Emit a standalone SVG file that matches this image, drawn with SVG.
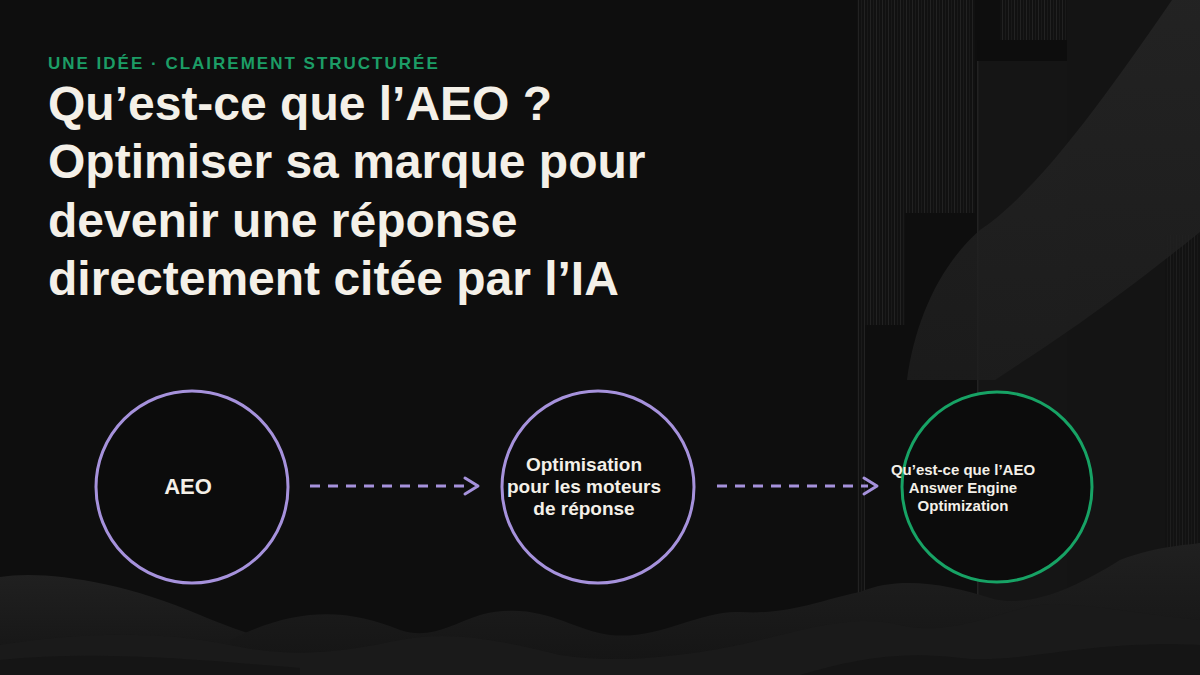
<svg xmlns="http://www.w3.org/2000/svg" width="1200" height="675" viewBox="0 0 1200 675">
<defs>
<style>
.bg{fill:#0e0e0e}
.kicker{font-family:"Liberation Sans",Arial,sans-serif;font-weight:700;font-size:17px;letter-spacing:2px;fill:#1c9d66}
.title{font-family:"Liberation Sans",Arial,sans-serif;font-weight:700;font-size:48px;fill:#f4f0e8}
.lbl{font-family:"Liberation Sans",Arial,sans-serif;font-weight:700;fill:#f4f0e8;text-anchor:middle}
.ring{fill:#0c0c0c;stroke-width:3}
.purple{stroke:#a692dc}
.green{stroke:#17a365}
.conn{stroke:#a692dc;stroke-width:3;fill:none;stroke-dasharray:10 8}
.head{stroke:#a692dc;stroke-width:3;fill:none;stroke-linecap:round;stroke-linejoin:round}
</style>
<pattern id="stripes" width="6" height="10" patternUnits="userSpaceOnUse">
<rect width="6" height="10" fill="#111111"/>
<rect x="0" width="1" height="10" fill="#222222"/>
<rect x="3" width="1" height="10" fill="#1a1a1a"/>
</pattern>
<linearGradient id="hill" x1="0" y1="0" x2="0" y2="1">
<stop offset="0" stop-color="#202020"/>
<stop offset="1" stop-color="#141414"/>
</linearGradient>
<linearGradient id="ribbon" x1="0" y1="0" x2="0" y2="1">
<stop offset="0" stop-color="#262626"/>
<stop offset="1" stop-color="#1e1e1e"/>
</linearGradient>
</defs>
<rect class="bg" width="1200" height="675"/>
<!-- decorative background, right side -->
<g id="decor-right">
<rect x="857" y="0" width="118" height="213" fill="url(#stripes)"/>
<rect x="857" y="213" width="48" height="112" fill="url(#stripes)"/>
<rect x="857" y="325" width="8" height="350" fill="url(#stripes)"/>
<rect x="1000" y="0" width="67" height="40" fill="url(#stripes)"/>
<rect x="977" y="40" width="90" height="21" fill="#0d0d0d"/>
<rect x="977" y="61" width="90" height="614" fill="#151515"/>
<rect x="977" y="61" width="1.5" height="614" fill="#222222"/>
<rect x="1067" y="0" width="133" height="675" fill="#141414"/>
<rect x="1165" y="235" width="35" height="440" fill="url(#stripes)" opacity="0.7"/>
<path d="M1172,0 C1110,90 1040,190 980,230 C940,265 915,320 907,380 L995,380 C1040,350 1090,320 1200,232 L1200,0 Z" fill="url(#ribbon)" opacity="0.8"/>
</g>
<!-- hills -->
<g id="decor-hills">
<path d="M0,577 C40,570 120,580 200,615 C260,640 300,650 330,648 L330,675 L0,675 Z" fill="url(#hill)"/>
<path d="M230,640 C300,605 350,610 400,630 C430,640 450,625 480,615 C540,600 570,630 610,635 C660,640 700,610 740,612 C790,615 820,600 860,592 C900,575 950,585 990,598 C1030,610 1080,585 1120,560 C1160,545 1190,545 1200,543 L1200,675 L230,675 Z" fill="url(#hill)"/>
<path d="M0,645 C60,635 150,628 230,645 C300,660 350,650 400,640 C450,630 500,640 560,655 C620,665 700,655 760,640 C820,625 860,615 900,625 C940,635 980,620 1030,606 C1080,600 1140,615 1200,620 L1200,675 L0,675 Z" fill="#1a1a1a"/>
<path d="M0,660 C100,650 200,660 300,668 L300,675 L0,675 Z M800,675 C850,660 900,650 960,658 C1020,665 1080,640 1200,645 L1200,675 Z" fill="#151515"/>
</g>
<!-- heading -->
<g id="heading">
<text class="kicker" x="48" y="69">UNE IDÉE · CLAIREMENT STRUCTURÉE</text>
<text class="title" x="48" y="120">Qu’est-ce que l’AEO ?</text>
<text class="title" x="48" y="178">Optimiser sa marque pour</text>
<text class="title" x="48" y="237">devenir une réponse</text>
<text class="title" x="48" y="295">directement citée par l’IA</text>
</g>
<!-- connectors -->
<g id="connectors">
<line class="conn" x1="310" y1="486" x2="470" y2="486"/>
<polyline class="head" points="465,478 478,486 465,494"/>
<line class="conn" x1="717" y1="486" x2="868" y2="486"/>
<polyline class="head" points="864,478 877,486 864,494"/>
</g>
<!-- nodes -->
<g id="node-aeo">
<circle class="ring purple" cx="192" cy="487" r="96"/>
<text class="lbl" x="188" y="494" font-size="22">AEO</text>
</g>
<g id="node-optimisation">
<circle class="ring purple" cx="598" cy="487" r="96"/>
<text class="lbl" x="584" y="471" font-size="19">Optimisation</text>
<text class="lbl" x="584" y="493" font-size="19">pour les moteurs</text>
<text class="lbl" x="584" y="515" font-size="19">de réponse</text>
</g>
<g id="node-definition">
<circle class="ring green" cx="997" cy="487" r="95"/>
<text class="lbl" x="963" y="475" font-size="15">Qu’est-ce que l’AEO</text>
<text class="lbl" x="963" y="493" font-size="15">Answer Engine</text>
<text class="lbl" x="963" y="511" font-size="15">Optimization</text>
</g>
</svg>
